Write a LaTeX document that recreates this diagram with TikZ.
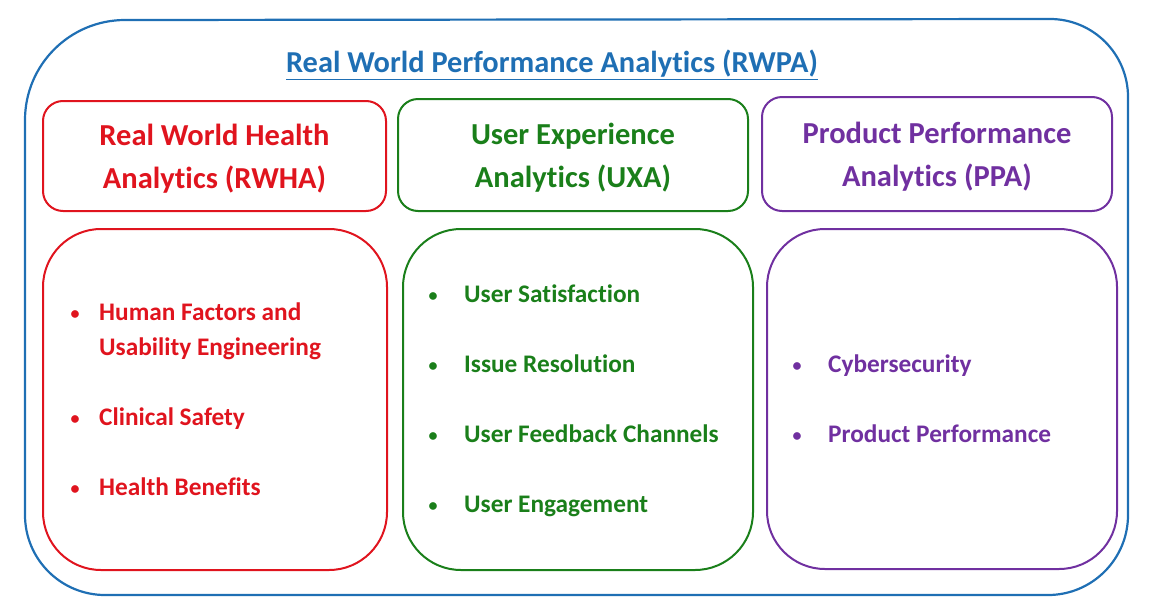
\documentclass[tikz,border=0pt]{standalone}
\usepackage{fontspec}
\setmainfont[Ligatures={NoCommon}]{Carlito}
\definecolor{cblue}{HTML}{1F6FB4}
\definecolor{cred}{HTML}{E0141E}
\definecolor{cgreen}{HTML}{1A7F1A}
\definecolor{cpurple}{HTML}{7030A0}
\begin{document}
\begin{tikzpicture}[x=1pt,y=-1pt,
  outer/.style={draw=cblue,line width=2.2pt},
  hdrbox/.style={line width=2pt,rounded corners=20pt},
  bodybox/.style={line width=2pt,rounded corners=58pt},
  hdrtext/.style={font=\bfseries\fontsize{30.5}{43}\selectfont,align=center},
  item/.style={font=\bfseries\fontsize{25.3}{35}\selectfont,anchor=base west,align=left,inner sep=0pt},
  dot/.style={font=\bfseries\fontsize{18}{35}\selectfont,anchor=base,inner sep=0pt}]
\useasboundingbox (0,0) rectangle (1150,608);
% outer frame
\draw[outer] (25,120) arc[start angle=180,end angle=270,radius=100] -- (1050,19)
  arc[start angle=270,end angle=360,radius=78] -- (1128,515)
  arc[start angle=0,end angle=90,radius=80] -- (105,595)
  arc[start angle=90,end angle=180,radius=80] -- cycle;
\node[font=\bfseries\fontsize{30.4}{36}\selectfont,text=cblue,inner sep=0pt] (title) at (552,65) {\underline{Real World Performance Analytics (RWPA)}};
% header boxes
\draw[hdrbox,draw=cred] (43,101) rectangle (386,211);
\draw[hdrbox,draw=cgreen] (398,99) rectangle (748,211);
\draw[hdrbox,draw=cpurple] (762,97) rectangle (1112,211);
\node[hdrtext,text=cred] (h1) at (214.5,159) {Real World Health\\Analytics (RWHA)};
\node[hdrtext,text=cgreen] (h2) at (573,158) {User Experience\\Analytics (UXA)};
\node[hdrtext,text=cpurple] (h3) at (937,157) {Product Performance\\Analytics (PPA)};
% body boxes
\draw[bodybox,draw=cred] (43,229) rectangle (387,570);
\draw[bodybox,draw=cgreen] (403,229) rectangle (753,570);
\draw[bodybox,draw=cpurple] (767,229) rectangle (1117,569);
% red items
\begin{scope}[text=cred]
\node[dot] (rd1) at (75,319) {\textbullet};
\node[item] (r1) at (99,355) {Human Factors and\\Usability Engineering};
\node[dot] (rd2) at (75,424) {\textbullet};
\node[item] (r2) at (99,425) {Clinical Safety};
\node[dot] (rd3) at (75,494) {\textbullet};
\node[item] (r3) at (99,495) {Health Benefits};
\end{scope}
% green items
\begin{scope}[text=cgreen]
\node[dot] (gd1) at (433,301) {\textbullet};
\node[item] (g1) at (464,302) {User Satisfaction};
\node[dot] (gd2) at (433,371) {\textbullet};
\node[item] (g2) at (464,372) {Issue Resolution};
\node[dot] (gd3) at (433,441) {\textbullet};
\node[item] (g3) at (464,442) {User Feedback Channels};
\node[dot] (gd4) at (433,511) {\textbullet};
\node[item] (g4) at (464,512) {User Engagement};
\end{scope}
% purple items
\begin{scope}[text=cpurple]
\node[dot] (pd1) at (797,371) {\textbullet};
\node[item] (p1) at (828,372) {Cybersecurity};
\node[dot] (pd2) at (797,441) {\textbullet};
\node[item] (p2) at (828,442) {Product Performance};
\end{scope}
\end{tikzpicture}
\end{document}
